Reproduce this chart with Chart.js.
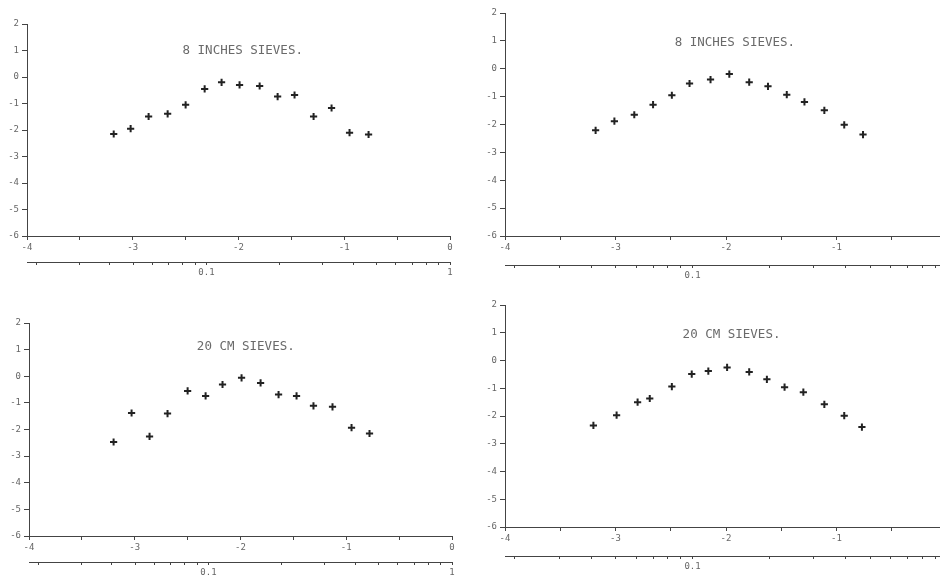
<!DOCTYPE html>
<html>
<head>
<meta charset="utf-8">
<script src="https://cdn.jsdelivr.net/npm/chart.js@4/dist/chart.umd.min.js"></script>
<style>
  html, body { margin: 0; padding: 0; background: #fff; overflow: hidden; width: 940px; height: 578px; }
  canvas { position: absolute; }
</style>
</head>
<body>
<canvas id="pA"></canvas>
<canvas id="pB"></canvas>
<canvas id="pC"></canvas>
<canvas id="pD"></canvas>
<script>
// values (x = ln of sieve size, y = response)
const titles = ['8 INCHES SIEVES.', '8 INCHES SIEVES.', '20 CM SIEVES.', '20 CM SIEVES.'];

const xA = [-3.18, -3.02, -2.85, -2.67, -2.50, -2.32, -2.16, -1.99, -1.80, -1.63, -1.47, -1.29, -1.12, -0.95, -0.77];
const yA = [-2.15, -1.95, -1.49, -1.39, -1.05, -0.45, -0.20, -0.30, -0.34, -0.74, -0.68, -1.49, -1.17, -2.10, -2.17];

const xB = [-3.18, -3.01, -2.83, -2.66, -2.49, -2.33, -2.14, -1.97, -1.79, -1.62, -1.45, -1.29, -1.11, -0.93, -0.76];
const yB = [-2.21, -1.88, -1.65, -1.29, -0.95, -0.53, -0.39, -0.19, -0.48, -0.63, -0.93, -1.19, -1.49, -2.01, -2.36];

const xC = [-3.20, -3.03, -2.86, -2.69, -2.50, -2.33, -2.17, -1.99, -1.81, -1.64, -1.47, -1.31, -1.13, -0.95, -0.78];
const yC = [-2.47, -1.38, -2.26, -1.40, -0.55, -0.74, -0.31, -0.06, -0.25, -0.69, -0.74, -1.11, -1.15, -1.93, -2.15];

const xD = [-3.20, -2.99, -2.80, -2.69, -2.49, -2.31, -2.16, -1.99, -1.79, -1.63, -1.47, -1.30, -1.11, -0.93, -0.77];
const yD = [-2.34, -1.97, -1.50, -1.37, -0.94, -0.49, -0.38, -0.25, -0.41, -0.68, -0.96, -1.14, -1.58, -1.99, -2.40];

// secondary (size) axis ticks, labelled only at 0.1 and 1
const sizeTicks = [0.02, 0.03, 0.04, 0.05, 0.06, 0.07, 0.08, 0.09, 0.1, 0.2, 0.3, 0.4, 0.5, 0.6, 0.7, 0.8, 0.9, 1];
const sizeLabels = [0.1, 1];

// panel placement: canvas box, chart area edges, secondary axis line, title anchor (data units)
const panels = [
    { id: 'pA', xs: xA, ys: yA, left: 0,   top: 0,   w: 470, h: 289, l: 27, t: 24, r: 450, b: 236, sec: 262, tx: -1.96, ty: 0.98 },
    { id: 'pB', xs: xB, ys: yB, left: 470, top: 0,   w: 500, h: 289, l: 35, t: 13, r: 477, b: 236, sec: 265, tx: -1.92, ty: 0.95 },
    { id: 'pC', xs: xC, ys: yC, left: 0,   top: 289, w: 470, h: 300, l: 29, t: 34, r: 452, b: 247, sec: 273, tx: -1.95, ty: 1.12 },
    { id: 'pD', xs: xD, ys: yD, left: 470, top: 289, w: 500, h: 300, l: 35, t: 16, r: 477, b: 238, sec: 267, tx: -1.95, ty: 0.94 }
];

Chart.defaults.font.family = '"DejaVu Sans Mono", monospace';
Chart.defaults.font.size = 9;
Chart.defaults.color = '#666';

const axisColor = '#444';

const panelTitle = {
    id: 'panelTitle',
    afterDatasetsDraw(chart, args, opts) {
        const { ctx, scales: { x, y } } = chart;
        ctx.save();
        ctx.font = '12.5px "DejaVu Sans Mono"';
        ctx.fillStyle = '#6a6a6a';
        ctx.textAlign = 'center';
        ctx.textBaseline = 'middle';
        ctx.fillText(opts.text, x.getPixelForValue(opts.x), y.getPixelForValue(opts.y));
        ctx.restore();
    }
};

panels.forEach((p, i) => {
    const canvas = document.getElementById(p.id);
    canvas.width = p.w;
    canvas.height = p.h;
    canvas.style.left = p.left + 'px';
    canvas.style.top = p.top + 'px';

    const secHeight = 16;

    new Chart(canvas, {
        type: 'scatter',
        data: {
            datasets: [{
                data: p.xs.map((v, k) => ({ x: v, y: p.ys[k] })),
                pointStyle: 'cross',
                pointRadius: 3.6,
                pointHoverRadius: 3.6,
                borderWidth: 2,
                borderColor: '#222',
                backgroundColor: '#222'
            }]
        },
        options: {
            responsive: false,
            devicePixelRatio: 1,
            animation: false,
            events: [],
            layout: {
                padding: { left: 0, top: p.t, right: p.w - p.r, bottom: p.h - p.sec - secHeight }
            },
            plugins: {
                legend: { display: false },
                tooltip: { enabled: false },
                panelTitle: { text: titles[i], x: p.tx, y: p.ty }
            },
            scales: {
                x: {
                    type: 'linear',
                    position: 'bottom',
                    weight: 0,
                    min: -4,
                    max: 0,
                    afterFit: s => { s.height = p.sec - p.b; },
                    border: { display: true, color: axisColor, width: 1 },
                    grid: { drawOnChartArea: false, drawTicks: true, tickLength: 4, color: axisColor },
                    ticks: {
                        stepSize: 0.5,
                        padding: 2,
                        autoSkip: false,
                        maxRotation: 0,
                        callback: v => Number.isInteger(v) ? String(v) : ''
                    }
                },
                x2: {
                    type: 'logarithmic',
                    position: 'bottom',
                    weight: 1,
                    min: Math.exp(-4),
                    max: 1,
                    afterFit: s => { s.height = secHeight; },
                    afterBuildTicks: s => { s.ticks = sizeTicks.map(v => ({ value: v })); },
                    border: { display: true, color: axisColor, width: 1 },
                    grid: { drawOnChartArea: false, drawTicks: true, tickLength: 3, color: axisColor },
                    ticks: {
                        padding: 2,
                        autoSkip: false,
                        maxRotation: 0,
                        callback: v => sizeLabels.includes(v) ? String(v) : ''
                    }
                },
                y: {
                    type: 'linear',
                    min: -6,
                    max: 2,
                    afterFit: s => { s.width = p.l; },
                    border: { display: true, color: axisColor, width: 1 },
                    grid: { drawOnChartArea: false, drawTicks: true, tickLength: 5, color: axisColor },
                    ticks: { stepSize: 1, padding: 3 }
                }
            }
        },
        plugins: [panelTitle]
    });
});
</script>
</body>
</html>
